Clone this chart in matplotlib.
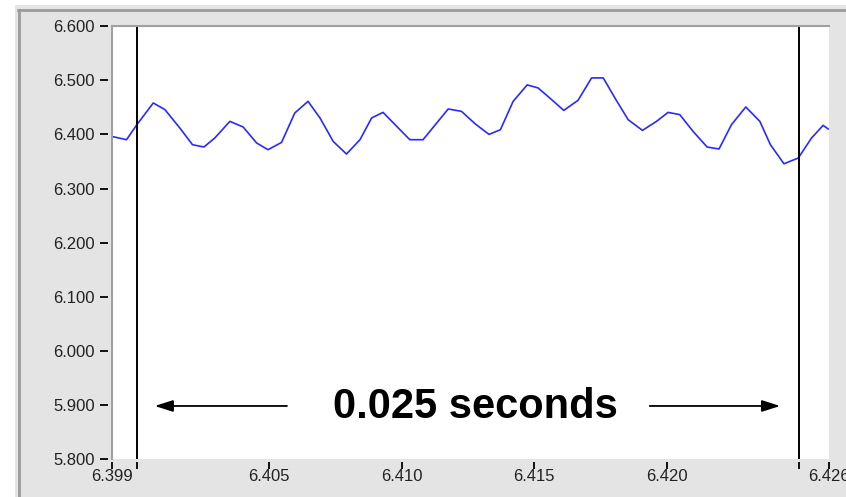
import matplotlib
matplotlib.use("Agg")
import matplotlib.pyplot as plt
from matplotlib.patches import Rectangle
from matplotlib.lines import Line2D

# time (s) and signal
t = [6.39905, 6.39961, 6.40000, 6.40062, 6.40106, 6.40162, 6.40210, 6.40253,
     6.40294, 6.40351, 6.40401, 6.40452, 6.40495, 6.40546, 6.40596, 6.40646,
     6.40691, 6.40741, 6.40791, 6.40842, 6.40886, 6.40929, 6.41030, 6.41080,
     6.41175, 6.41225, 6.41276, 6.41329, 6.41372, 6.41420, 6.41473, 6.41514,
     6.41558, 6.41611, 6.41665, 6.41716, 6.41760, 6.41804, 6.41854, 6.41908,
     6.41961, 6.42005, 6.42049, 6.42099, 6.42152, 6.42197, 6.42244, 6.42298,
     6.42351, 6.42391, 6.42442, 6.42496, 6.42546, 6.42590, 6.42609]
v = [6.3963, 6.3902, 6.4180, 6.4581, 6.4457, 6.4119, 6.3809, 6.3767,
     6.3933, 6.4241, 6.4137, 6.3841, 6.3717, 6.3852, 6.4396, 6.4611,
     6.4304, 6.3870, 6.3637, 6.3902, 6.4304, 6.4407, 6.3902, 6.3902,
     6.4470, 6.4426, 6.4198, 6.4000, 6.4087, 6.4611, 6.4915, 6.4859,
     6.4674, 6.4444, 6.4630, 6.5044, 6.5044, 6.4674, 6.4272, 6.4074,
     6.4241, 6.4407, 6.4365, 6.4056, 6.3767, 6.3730, 6.4180, 6.4507,
     6.4241, 6.3809, 6.3457, 6.3563, 6.3933, 6.4167, 6.4100]

x_min, x_max = 6.39905, 6.42612
x_ticks = [x_min, 6.405, 6.410, 6.415, 6.420, x_max]
y_ticks = [5.8, 5.9, 6.0, 6.1, 6.2, 6.3, 6.4, 6.5, 6.6]
cursors = [6.400, 6.425]
span_label = "0.025 seconds"

fig = plt.figure(figsize=(8.46, 4.97), dpi=100)
fig.patch.set_facecolor("white")

# grey panel + frame
W, H = 846, 497
fig.patches.append(Rectangle((15 / W, 0), 1, 1 - 5 / H, transform=fig.transFigure,
                             facecolor="#e4e4e4", edgecolor="none", zorder=-2))
fig.lines.append(Line2D([18.5 / W, 18.5 / W], [0, 1 - 9.5 / H], transform=fig.transFigure,
                        color="#9c9c9c", lw=2, zorder=-1))
fig.lines.append(Line2D([18 / W, 1], [1 - 9.5 / H, 1 - 9.5 / H], transform=fig.transFigure,
                        color="#9c9c9c", lw=2, zorder=-1))

ax = fig.add_axes([111.7 / W, 1 - 459 / H, (829 - 111.7) / W, (459 - 26.2) / H])
ax.set_facecolor("white")

ax.plot(t, v, color="#2a2aff", lw=1.2)
for c in cursors:
    ax.axvline(c, color="black", lw=1.4)

ax.set_xlim(x_min, x_max)
ax.set_ylim(5.8, 6.6)

ax.set_yticks(y_ticks)
ax.set_yticklabels([f"{y:.3f}" for y in y_ticks])
ax.set_xticks(x_ticks)
ax.set_xticklabels([f"{x:.3f}" for x in x_ticks])
ax.set_xticks(cursors, minor=True)

for s in ["right", "bottom"]:
    ax.spines[s].set_visible(False)
ax.spines["top"].set_color("#a0a0a0")
ax.spines["top"].set_linewidth(1.5)
ax.spines["left"].set_position(("outward", 2.5))
ax.spines["left"].set_visible(False)
ax.spines["bottom"].set_position(("outward", 2))
ax.plot([0, 0], [0, 1], transform=ax.transAxes, color="#a0a0a0", lw=1.5, clip_on=False)

ax.tick_params(axis="y", length=6, width=1.3, color="black", pad=3.5,
               labelsize=12, labelcolor="#222222")
ax.tick_params(axis="x", which="both", length=5, width=1.3, color="black", pad=0.5,
               labelsize=12, labelcolor="#222222")
for lab in ax.get_xticklabels() + ax.get_yticklabels():
    lab.set_fontfamily("Liberation Sans")

# span annotation
arrow = dict(arrowstyle="-|>,head_length=1.1,head_width=0.35", color="black", lw=1.3)
ax.annotate("", xy=(6.40057, 5.898), xytext=(6.40577, 5.898), arrowprops=arrow)
ax.annotate("", xy=(6.42438, 5.898), xytext=(6.41925, 5.898), arrowprops=arrow)
ax.text(6.41279, 5.8754, span_label, ha="center", va="baseline", fontsize=30,
        fontweight="bold", family="Liberation Sans")

fig.savefig("out.png", dpi=100)
